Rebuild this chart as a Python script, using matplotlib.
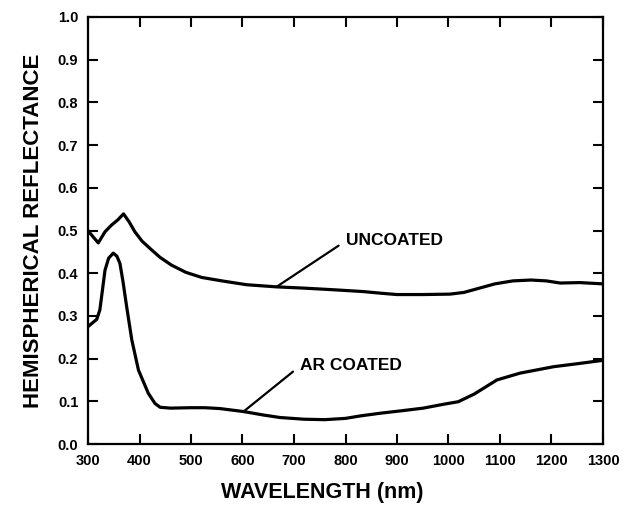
import matplotlib
matplotlib.use("Agg")
import matplotlib.pyplot as plt

plt.rcParams['font.family'] = ['Liberation Sans', 'DejaVu Sans']

wl_uncoated = [300, 310, 320, 333, 346, 358, 369, 380, 391, 405, 424, 440, 462, 490,
               521, 560, 608, 666, 720, 780, 834, 870, 900, 950, 1003, 1030, 1060,
               1090, 1125, 1160, 1190, 1217, 1255, 1300]
refl_uncoated = [0.500, 0.485, 0.471, 0.497, 0.513, 0.525, 0.539, 0.520, 0.497, 0.475,
                 0.454, 0.437, 0.419, 0.402, 0.390, 0.382, 0.373, 0.368, 0.365, 0.361,
                 0.357, 0.353, 0.350, 0.350, 0.351, 0.355, 0.365, 0.375, 0.382, 0.384,
                 0.382, 0.377, 0.378, 0.375]

wl_ar = [300, 310, 317, 323, 328, 333, 340, 349, 356, 362, 368, 375, 385, 398, 417,
         430, 440, 460, 500, 527, 556, 602, 640, 673, 720, 760, 800, 830, 867, 910,
         951, 990, 1019, 1050, 1094, 1139, 1204, 1250, 1294, 1300]
refl_ar = [0.275, 0.285, 0.292, 0.314, 0.360, 0.407, 0.435, 0.447, 0.440, 0.423,
           0.380, 0.322, 0.244, 0.173, 0.119, 0.095, 0.086, 0.084, 0.085, 0.085,
           0.083, 0.076, 0.068, 0.062, 0.058, 0.057, 0.060, 0.066, 0.072, 0.078,
           0.084, 0.093, 0.099, 0.117, 0.150, 0.166, 0.181, 0.188, 0.195, 0.196]

x_ticks = [300, 400, 500, 600, 700, 800, 900, 1000, 1100, 1200, 1300]
y_ticks = [0.0, 0.1, 0.2, 0.3, 0.4, 0.5, 0.6, 0.7, 0.8, 0.9, 1.0]

fig = plt.figure(figsize=(6.24, 5.12), dpi=100)
ax = fig.add_axes([88/624, 1-444/512, (603-88)/624, (444-17)/512])

kw = dict(color='black', lw=2.3, solid_joinstyle='round', solid_capstyle='round')
ax.plot(wl_uncoated, refl_uncoated, **kw)
ax.plot(wl_ar, refl_ar, **kw)

ax.set_xlim(300, 1300)
ax.set_ylim(0, 1.0)
ax.set_xticks(x_ticks)
ax.set_yticks(y_ticks)
ax.set_xticklabels([str(t) for t in x_ticks])
ax.set_yticklabels([f"{t:.1f}" for t in y_ticks])
ax.tick_params(direction='in', length=7, width=1.5, top=True, right=True,
               labelsize=10.5, pad=7)
for lab in ax.get_xticklabels() + ax.get_yticklabels():
    lab.set_fontweight('bold')
for s in ax.spines.values():
    s.set_linewidth(1.6)

ax.set_xlabel('WAVELENGTH (nm)', fontsize=15.5, fontweight='bold')
ax.xaxis.set_label_coords(0.455, -0.09)
ax.set_ylabel('HEMISPHERICAL REFLECTANCE', fontsize=16, fontweight='bold', labelpad=10)

ax.annotate('UNCOATED', xy=(666, 0.368), xytext=(801, 0.476),
            fontsize=12.5, fontweight='bold', va='center', ha='left',
            arrowprops=dict(arrowstyle='-', color='black', lw=1.6,
                            relpos=(0, 0.5), shrinkA=4, shrinkB=0))
ax.annotate('AR COATED', xy=(602, 0.076), xytext=(712, 0.183),
            fontsize=12.5, fontweight='bold', va='center', ha='left',
            arrowprops=dict(arrowstyle='-', color='black', lw=1.6,
                            relpos=(0, 0.5), shrinkA=4, shrinkB=0))

fig.savefig('out.png', dpi=100)
